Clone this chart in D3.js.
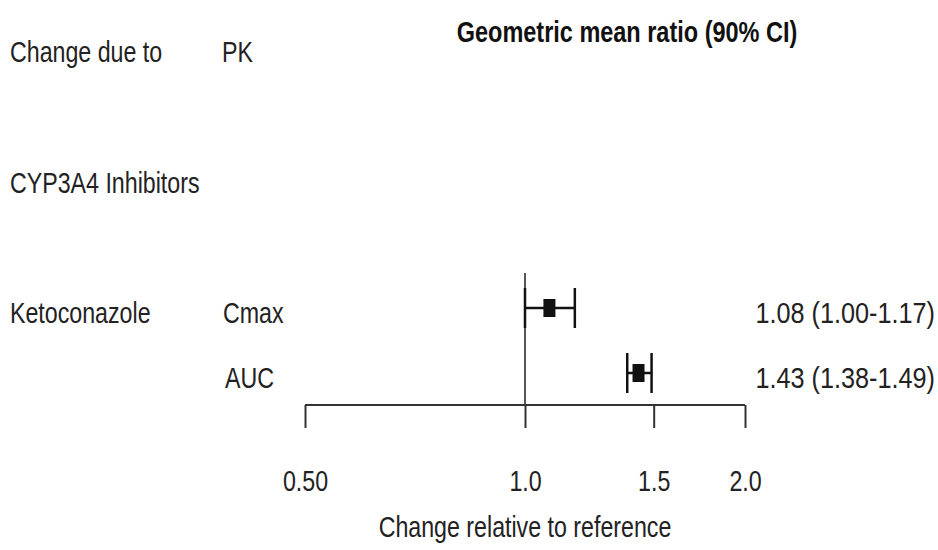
<!DOCTYPE html>
<html><head><meta charset="utf-8">
<script src="https://cdn.jsdelivr.net/npm/d3@7"></script>
<style>
html,body{margin:0;padding:0;background:#fff;}
text{font-family:"Liberation Sans",Arial,sans-serif;fill:#222;}
</style></head>
<body>
<svg id="c" width="938" height="550"></svg>
<script>
// Data
const factors = ["Ketoconazole"];
const params = ["Cmax", "AUC"];
const gmr = [1.08, 1.43];
const lower = [1.00, 1.38];
const upper = [1.17, 1.49];
const tickValues = [0.5, 1.0, 1.5, 2.0];
const tickLabels = ["0.50", "1.0", "1.5", "2.0"];
const headerLeft = "Change due to";
const headerMid = "PK";
const headerRight = "Geometric mean ratio (90% CI)";
const groupLabel = "CYP3A4 Inhibitors";
const xTitle = "Change relative to reference";

const svg = d3.select("#c");
const x = d3.scaleLog().domain([0.5, 2]).range([305, 745]);
const y = d3.scaleLinear().domain([0, 1]).range([50, 115]); // row units
const rowOf = [4, 5];
const fs = 29;
const SX = 0.8;

function txt(px, py, s, opts = {}) {
  const t = svg.append("text")
    .attr("transform", `translate(${px},${py}) scale(${opts.sx || SX},1)`)
    .attr("font-size", opts.size || fs)
    .attr("text-anchor", opts.anchor || "start")
    .text(s);
  if (opts.bold) t.attr("font-weight", "bold").style("fill", "#111");
  return t;
}

// header
txt(10, y(0) + 12, headerLeft);
txt(222, y(0) + 12, headerMid);
txt(627, y(0) - 8, headerRight, { size: 29, bold: true, anchor: "middle", sx: 0.81 });
txt(10, y(2) + 13, groupLabel);

// row labels
txt(10, y(rowOf[0]) + 13, factors[0]);
params.forEach((p, i) => {
  txt(223 + (i === 1 ? 2 : 0), y(rowOf[i]) + 13, p);
  txt(935, y(rowOf[i]) + 13,
    d3.format(".2f")(gmr[i]) + " (" + d3.format(".2f")(lower[i]) + "-" + d3.format(".2f")(upper[i]) + ")",
    { anchor: "end", sx: 0.87 });
});

// axis
const axisY = 405;
const axisG = svg.append("g").attr("transform", `translate(0,${axisY})`)
  .call(d3.axisBottom(x).tickValues(tickValues).tickFormat((d, i) => tickLabels[i]).tickSize(23).tickPadding(42));
axisG.select(".domain").attr("stroke", "#333").attr("stroke-width", 2).attr("d", `M${x(0.5)},0H${x(2)}`);
axisG.selectAll(".tick line").attr("stroke", "#333").attr("stroke-width", 2);
axisG.selectAll(".tick text").attr("font-size", fs).attr("font-family", null).style("fill", "#222")
  .attr("transform", `scale(${SX},1)`);
txt(x(1), 537, xTitle, { anchor: "middle" });

// reference line
svg.append("line").attr("x1", x(1)).attr("x2", x(1)).attr("y1", y(rowOf[0]) - 37).attr("y2", axisY)
  .attr("stroke", "#444").attr("stroke-width", 1.8);

// error bars
params.forEach((p, i) => {
  const cy = y(rowOf[i]) - 2;
  const g = svg.append("g");
  g.append("line").attr("x1", x(lower[i])).attr("x2", x(upper[i])).attr("y1", cy).attr("y2", cy)
    .attr("stroke", "#111").attr("stroke-width", 2.5);
  [lower[i], upper[i]].forEach(v => {
    g.append("line").attr("x1", x(v)).attr("x2", x(v)).attr("y1", cy - 20).attr("y2", cy + 20)
      .attr("stroke", "#111").attr("stroke-width", 2.5);
  });
  g.append("rect").attr("x", x(gmr[i]) - 6).attr("y", cy - 9).attr("width", 12).attr("height", 18).attr("fill", "#111");
});
</script>
</body></html>
